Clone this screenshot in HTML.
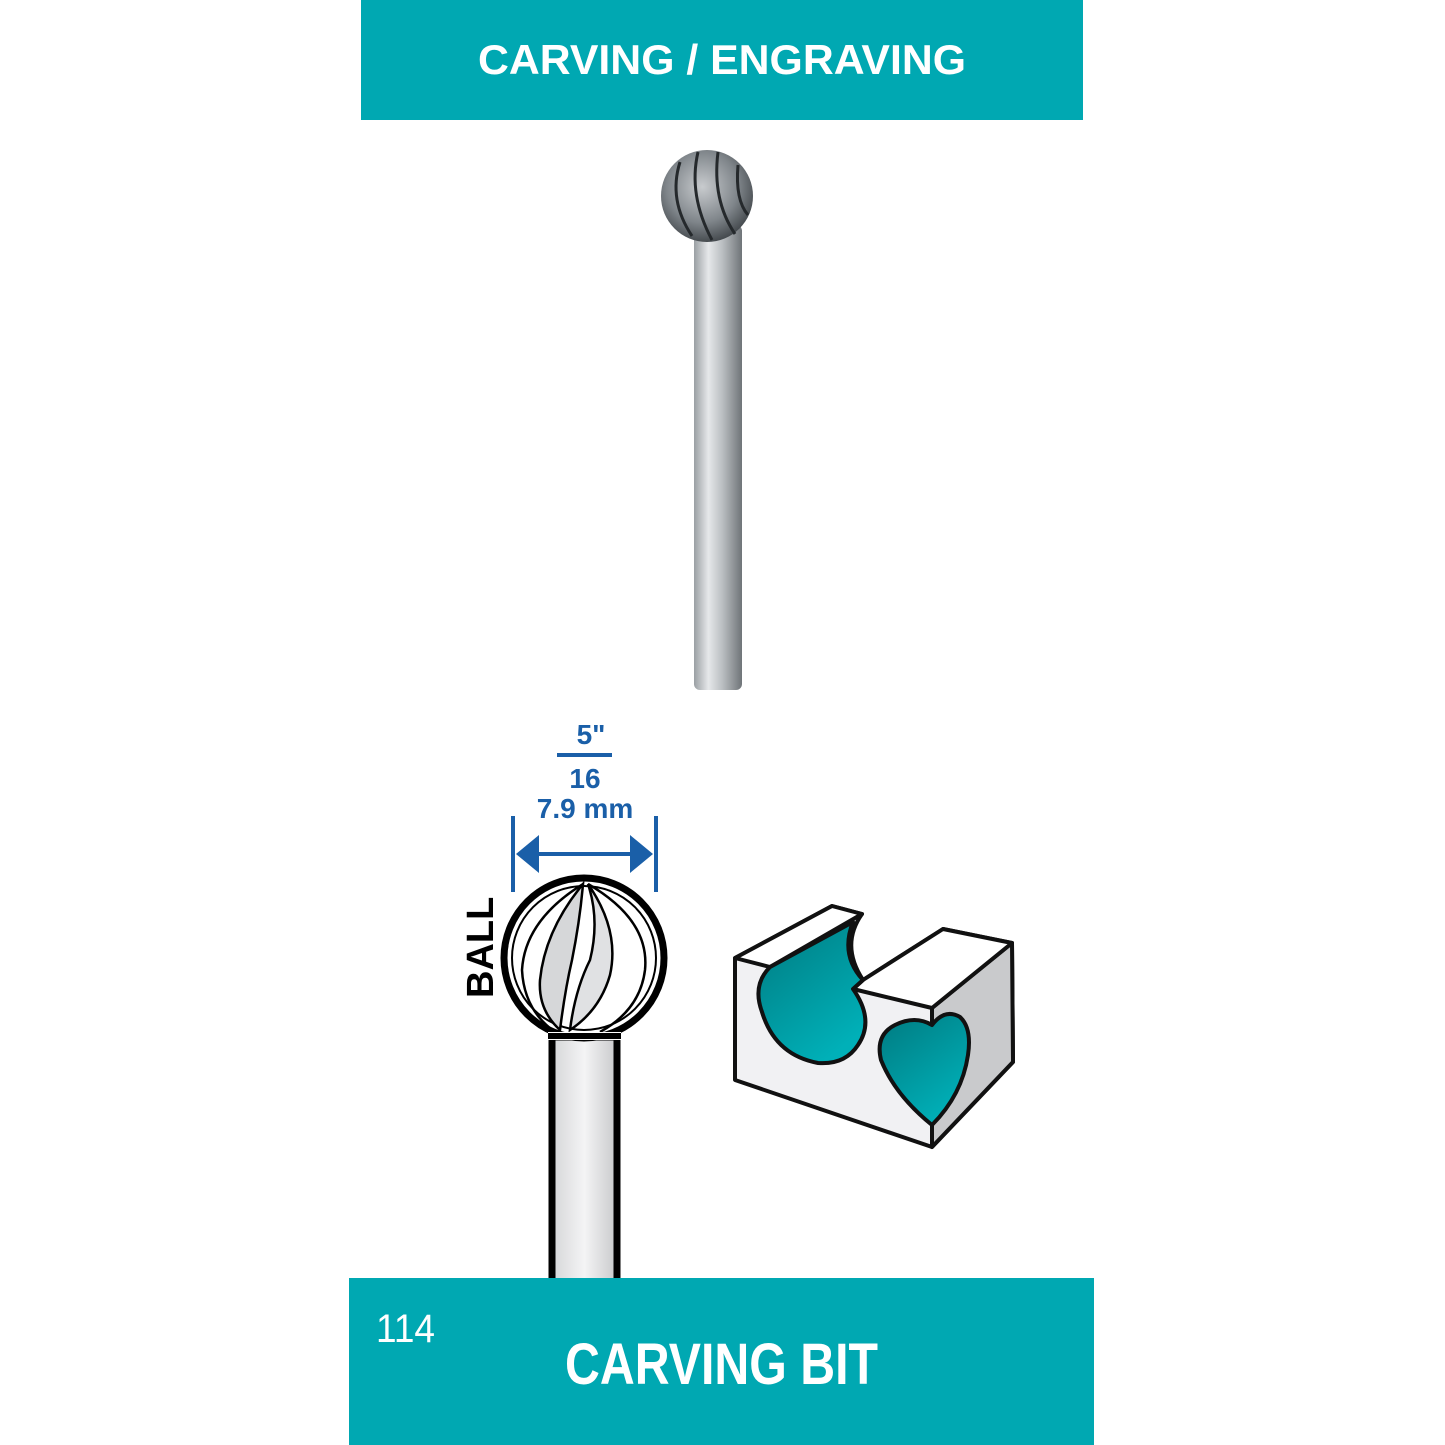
<!DOCTYPE html>
<html><head><style>html,body{margin:0;padding:0;background:#fff}svg{display:block}</style></head><body>
<svg width="1445" height="1445" viewBox="0 0 1445 1445" xmlns="http://www.w3.org/2000/svg">
<defs>
<linearGradient id="sh" x1="0" x2="1"><stop offset="0" stop-color="#9a9fa3"/><stop offset=".3" stop-color="#e6e8ea"/><stop offset=".6" stop-color="#b9bdc0"/><stop offset="1" stop-color="#6f7478"/></linearGradient>
<radialGradient id="bl" cx=".45" cy=".4" r=".65"><stop offset="0" stop-color="#c8cbce"/><stop offset=".6" stop-color="#7f858a"/><stop offset="1" stop-color="#3a3f43"/></radialGradient>
<linearGradient id="ds" x1="0" x2="1"><stop offset="0" stop-color="#d5d6d8"/><stop offset=".5" stop-color="#f4f4f5"/><stop offset="1" stop-color="#c8c9cb"/></linearGradient>
<linearGradient id="tl" x1="0" y1="0" x2=".6" y2="1"><stop offset="0" stop-color="#007a80"/><stop offset="1" stop-color="#00b0b8"/></linearGradient>
</defs>
<rect x="361" y="0" width="722" height="120" fill="#00a8b2"/>
<text x="478" y="74" textLength="488" lengthAdjust="spacingAndGlyphs" font-family="Liberation Sans, sans-serif" font-weight="bold" font-size="42" fill="#fff">CARVING / ENGRAVING</text>
<rect x="694" y="225" width="48" height="465" rx="6" fill="url(#sh)"/>
<circle cx="707" cy="196" r="46" fill="url(#bl)"/>
<path d="M680 162 Q668 200 692 236 M698 152 Q688 195 712 240 M718 152 Q712 200 735 234 M738 165 Q735 200 748 215" stroke="#25292c" stroke-width="3" fill="none"/>
<g fill="#1a5fa8" font-family="Liberation Sans Narrow, Liberation Sans, sans-serif" font-weight="bold" text-anchor="middle">
<text x="591" y="744" font-size="28">5"</text>
<rect x="557" y="753" width="55" height="4"/>
<text x="585" y="788" font-size="28">16</text>
<text x="585" y="818" font-size="28">7.9 mm</text>
</g>
<g stroke="#1a5fa8" stroke-width="4"><line x1="513" y1="816" x2="513" y2="892"/><line x1="656" y1="816" x2="656" y2="892"/><line x1="530" y1="854" x2="640" y2="854"/></g>
<path d="M516 854 L539 835 L539 873Z M653 854 L630 835 L630 873Z" fill="#1a5fa8"/>
<rect x="552" y="1037" width="65" height="250" fill="url(#ds)" stroke="#000" stroke-width="7"/>
<circle cx="584" cy="958" r="80" fill="#fff" stroke="#000" stroke-width="7"/>
<circle cx="584" cy="958" r="72" fill="none" stroke="#000" stroke-width="2"/>
<path d="M583 884 Q545 930 540 980 Q538 1010 560 1030 Q565 990 572 960 Q580 920 583 884Z" fill="#d6d7d9" stroke="#000" stroke-width="2.5"/>
<path d="M588 884 Q620 930 610 975 Q600 1010 570 1030 Q575 990 590 960 Q600 920 588 884Z" fill="#e0e1e3" stroke="#000" stroke-width="2.5"/>
<path d="M583 884 Q525 920 522 970 Q524 1010 555 1032 M588 884 Q650 920 645 970 Q640 1010 600 1032" fill="none" stroke="#000" stroke-width="2.5"/>
<rect x="548" y="1032" width="73" height="8" fill="#fff"/>
<line x1="548" y1="1036" x2="621" y2="1036" stroke="#000" stroke-width="6"/>
<text transform="translate(493,998) rotate(-90)" font-family="Liberation Sans, sans-serif" font-weight="bold" font-size="38" fill="#000">BALL</text>
<g stroke="#111" stroke-width="4" stroke-linejoin="round">
<path d="M735 958 L832 906 L862 914 Q840 945 863 980 L943 929 L1012 943 L1013 1062 L932 1147 L735 1080Z" fill="#f1f1f3"/>
<path d="M932 1008 L1012 943 L1013 1062 L932 1147Z" fill="#c9cacc"/>
<path d="M735 958 L832 906 L862 914 L770 967Z" fill="#fff"/>
<path d="M863 980 L943 929 L1012 943 L932 1008 L853 989Z" fill="#fff"/>
<path d="M770 967 L853 922 Q840 955 863 980 L853 989 Q875 1020 858 1045 Q845 1065 818 1063 Q775 1055 762 1012 Q752 985 770 967Z" fill="url(#tl)"/>
<path d="M932 1025 Q945 1008 960 1017 Q972 1028 968 1055 Q962 1095 932 1125 Q895 1095 881 1060 Q875 1035 895 1025 Q915 1015 932 1025Z" fill="url(#tl)"/>
</g>
<rect x="349" y="1278" width="745" height="167" fill="#00a8b2"/>
<text x="376" y="1342" textLength="59" lengthAdjust="spacingAndGlyphs" font-family="Liberation Sans Narrow, Liberation Sans, sans-serif" font-size="40" fill="#fff">114</text>
<text x="565" y="1384" textLength="313" lengthAdjust="spacingAndGlyphs" font-family="Liberation Sans Narrow, Liberation Sans, sans-serif" font-weight="bold" font-size="58" fill="#fff">CARVING BIT</text>
</svg>
</body></html>
